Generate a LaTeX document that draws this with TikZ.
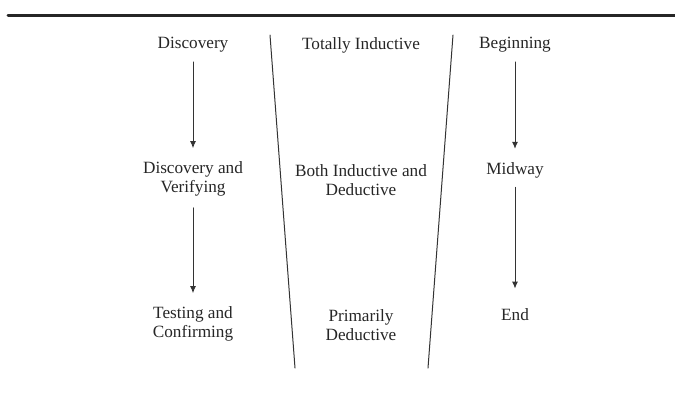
\documentclass[tikz,border=0pt]{standalone}
\usepackage{fontspec}
\setmainfont{Liberation Serif}
\usetikzlibrary{arrows.meta}

\begin{document}
\begin{tikzpicture}[x=0.5pt,y=-0.5pt,line join=round,line cap=round,
  lbl/.style={align=center,inner sep=0pt,text=black!85,font=\fontsize{8.6}{9.6}\selectfont},
  flow/.style={-{Latex[length=3.5pt,width=3pt]},line width=0.45pt,black!80}]
\useasboundingbox (0,0) rectangle (675,408);
\draw[line width=1.5pt,black!85] (8,15)--(675,15);
% the two slanted dividers
\coordinate (L1) at (270,35);
\coordinate (L2) at (295,368);
\coordinate (R1) at (453,35);
\coordinate (R2) at (428,368);
\draw[line width=0.5pt,black!80] (L1)--(L2) (R1)--(R2);
% three columns of labels
\foreach \n/\x/\y/\t in {disc/193/45/Discovery, discver/193/179/{Discovery and\\Verifying}, test/193/324/{Testing and\\Confirming},
  totind/361/45/Totally Inductive, both/361/180/{Both Inductive and\\Deductive}, prim/361/325/{Primarily\\Deductive},
  beg/515/45/Beginning, mid/515/170/Midway, fin/515/315/End}{\node[lbl] (\n) at (\x,\y) {\t};}
\draw[flow,shorten <=4.5pt,shorten >=6.5pt] (disc)--(discver);
\draw[flow,shorten <=5.5pt,shorten >=6.5pt] (discver)--(test);
\draw[flow,shorten <=4.5pt,shorten >=6.5pt] (beg)--(mid);
\draw[flow,shorten <=4.5pt,shorten >=10pt] (mid)--(fin);
\end{tikzpicture}
\end{document}
